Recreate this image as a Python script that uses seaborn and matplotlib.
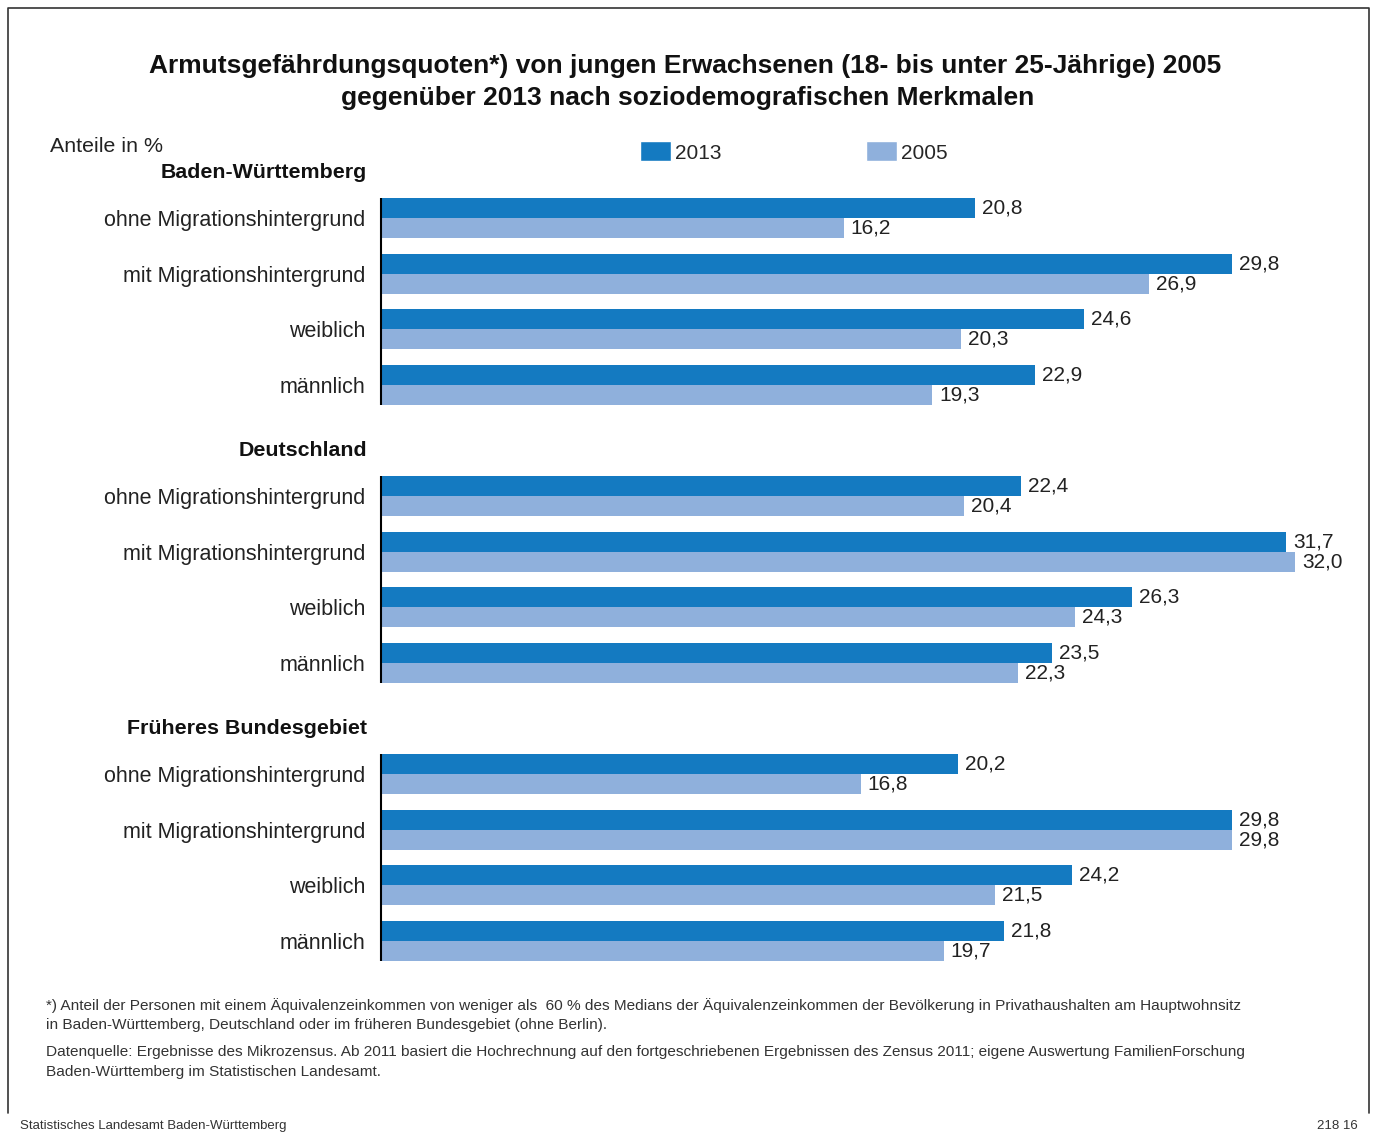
import pandas as pd
import matplotlib
matplotlib.use("Agg")
import matplotlib.pyplot as plt
from matplotlib.lines import Line2D
from matplotlib.patches import Patch
import seaborn as sns

# Data
groups = ["Baden-Württemberg", "Deutschland", "Früheres Bundesgebiet"]
categories = ["ohne Migrationshintergrund", "mit Migrationshintergrund", "weiblich", "männlich"]
years = ["2013", "2005"]
quote_2013 = [20.8, 29.8, 24.6, 22.9,
              22.4, 31.7, 26.3, 23.5,
              20.2, 29.8, 24.2, 21.8]
quote_2005 = [16.2, 26.9, 20.3, 19.3,
              20.4, 32.0, 24.3, 22.3,
              16.8, 29.8, 21.5, 19.7]
colors = {"2013": "#147AC1", "2005": "#8FB0DC"}

W, H = 1375, 1133


def px(x, y):
    """Pixel position -> figure fraction."""
    return x / W, 1 - y / H


# long-form table, with an empty slot in front of every group for the header
rows = []
order = []
for gi, g in enumerate(groups):
    order.append(g + "|")
    for ci, c in enumerate(categories):
        key = g + "|" + c
        order.append(key)
        rows.append({"key": key, "year": "2013", "value": quote_2013[gi * 4 + ci]})
        rows.append({"key": key, "year": "2005", "value": quote_2005[gi * 4 + ci]})
df = pd.DataFrame(rows)

sns.set_style("white")
plt.rcParams["font.family"] = ["Liberation Sans", "DejaVu Sans"]

fig = plt.figure(figsize=(W / 100, H / 100), dpi=100)
slot = 55.6
scale = 28.56
ax = fig.add_axes([381 / W, 1 - 968.6 / H, 34 * scale / W, 15 * slot / H])

sns.barplot(data=df, x="value", y="key", hue="year", order=order, hue_order=years,
            palette=colors, width=0.72, orient="h", errorbar=None, saturation=1,
            legend=False, linewidth=0, edgecolor="none", ax=ax)

ax.set_xlim(0, 34)
ax.set_ylim(14.5, -0.5)
for sp in ax.spines.values():
    sp.set_visible(False)
ax.set_xticks([])
ax.set_xlabel("")
ax.set_ylabel("")
ax.set_yticks(range(len(order)))
ax.set_yticklabels(["" if k.endswith("|") else k.split("|")[1] for k in order],
                   fontsize=15.5, color="#222222")
ax.tick_params(axis="y", length=0, pad=11)

for cont in ax.containers:
    ax.bar_label(cont, fmt=lambda v: f"{v:.1f}".replace(".", ","), padding=5,
                 fontsize=15, color="#222222")

# group headers and the short axis line per group
for gi, g in enumerate(groups):
    s = gi * 5 + 1
    ax.vlines(0, s - 0.36, s + 3 + 0.36, color="black", lw=1.5, clip_on=False)
    ax.text(-14 / scale, s - 1 + 0.19, g, ha="right", va="center",
            fontsize=15.4, fontweight="bold", color="#111111")

handles = [Patch(facecolor=colors[y], label=y) for y in years]
fig.legend(handles=handles, loc="center left", bbox_to_anchor=px(640, 152), ncol=2,
           frameon=False, fontsize=15, handlelength=1.5, handleheight=1.1,
           handletextpad=0.2, columnspacing=6.9, borderpad=0, borderaxespad=0)

fig.text(*px(685, 66), "Armutsgefährdungsquoten*) von jungen Erwachsenen (18- bis unter 25-Jährige) 2005",
         ha="center", va="center", fontsize=19, fontweight="bold", color="#111111")
fig.text(*px(688, 98), "gegenüber 2013 nach soziodemografischen Merkmalen",
         ha="center", va="center", fontsize=19, fontweight="bold", color="#111111")
fig.text(*px(50, 147), "Anteile in %", fontsize=15.4, va="center", color="#222222")

foot = [
    "*) Anteil der Personen mit einem Äquivalenzeinkommen von weniger als  60 % des Medians der Äquivalenzeinkommen der Bevölkerung in Privathaushalten am Hauptwohnsitz",
    "in Baden-Württemberg, Deutschland oder im früheren Bundesgebiet (ohne Berlin).",
    "Datenquelle: Ergebnisse des Mikrozensus. Ab 2011 basiert die Hochrechnung auf den fortgeschriebenen Ergebnissen des Zensus 2011; eigene Auswertung FamilienForschung",
    "Baden-Württemberg im Statistischen Landesamt.",
]
for txt, y in zip(foot, [1006, 1025, 1052, 1072]):
    fig.text(*px(46, y), txt, fontsize=11.1, va="center", color="#333333")

fig.text(*px(20, 1126), "Statistisches Landesamt Baden-Württemberg", fontsize=9.5, va="center", color="#333333")
fig.text(*px(1358, 1126), "218 16", fontsize=9.5, va="center", ha="right", color="#333333")

fig.add_artist(Line2D([8 / W, 8 / W, 1369 / W, 1369 / W],
                      [1 - 1113 / H, 1 - 8 / H, 1 - 8 / H, 1 - 1113 / H],
                      transform=fig.transFigure, color="#333333", lw=1.2))

fig.savefig("out.png", dpi=100)
